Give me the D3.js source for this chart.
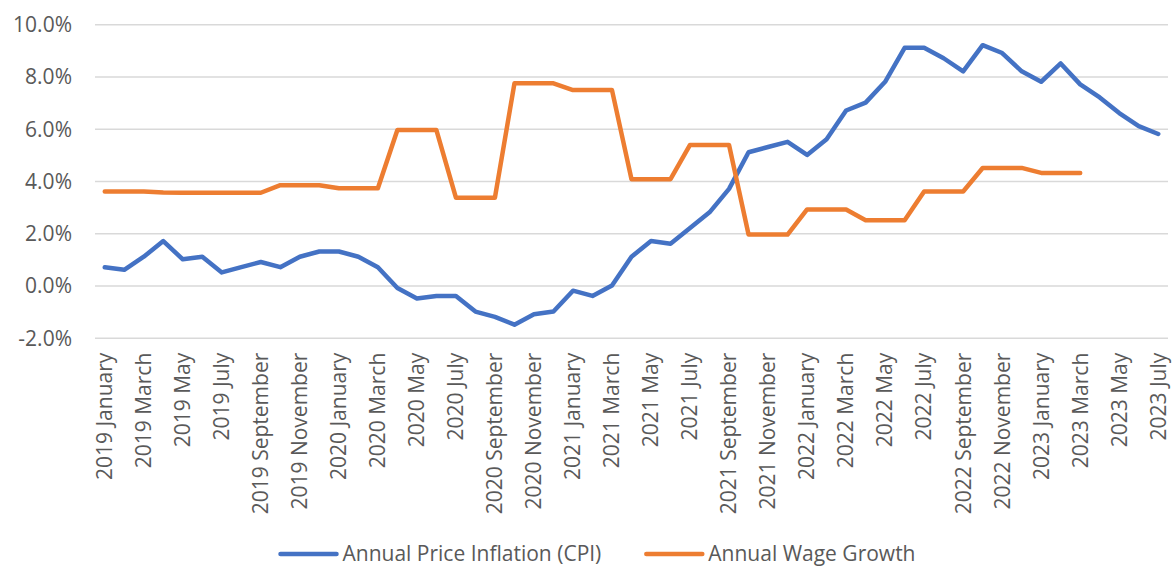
<!DOCTYPE html>
<html>
<head>
<meta charset="utf-8">
<script src="https://cdn.jsdelivr.net/npm/d3@7"></script>
<style>
  body { margin: 0; background: #fff; }
  text { font-family: "Open Sans", sans-serif; fill: #595959; }
  .line { fill: none; stroke-width: 4.5; stroke-linejoin: round; stroke-linecap: round; }
</style>
</head>
<body>
<div id="chart"></div>
<script>
// month labels, Jan 2019 .. Jul 2023
const years = [2019, 2020, 2021, 2022, 2023]
const monthNames = ['January', 'February', 'March', 'April', 'May', 'June', 'July',
  'August', 'September', 'October', 'November', 'December']
const months = []
years.forEach(y => monthNames.forEach((m, i) => {
  if (y < 2023 || i < 7) months.push(`${y} ${m}`)
}))

// annual CPI inflation, %
const cpi = [
  0.7, 0.6, 1.1, 1.7, 1.0, 1.1, 0.5, 0.7, 0.9, 0.7, 1.1, 1.3,
  1.3, 1.1, 0.7, -0.1, -0.5, -0.4, -0.4, -1.0, -1.2, -1.5, -1.1, -1.0,
  -0.2, -0.4, 0.0, 1.1, 1.7, 1.6, 2.2, 2.8, 3.7, 5.1, 5.3, 5.5,
  5.0, 5.6, 6.7, 7.0, 7.8, 9.1, 9.1, 8.7, 8.2, 9.2, 8.9, 8.2,
  7.8, 8.5, 7.7, 7.2, 6.6, 6.1, 5.8
]

// annual wage growth, % (no data after March 2023)
const wages = [
  3.6, 3.6, 3.6, 3.56, 3.55, 3.55, 3.55, 3.55, 3.55, 3.84, 3.84, 3.84,
  3.72, 3.72, 3.72, 5.95, 5.95, 5.95, 3.36, 3.36, 3.36, 7.74, 7.74, 7.74,
  7.48, 7.48, 7.48, 4.07, 4.07, 4.07, 5.38, 5.38, 5.38, 1.95, 1.95, 1.95,
  2.91, 2.91, 2.91, 2.5, 2.5, 2.5, 3.6, 3.6, 3.6, 4.5, 4.5, 4.5,
  4.31, 4.31, 4.31, null, null, null, null
]

const yTicks = [-2, 0, 2, 4, 6, 8, 10]

const series = [
  { name: 'Annual Price Inflation (CPI)', values: cpi, color: '#4472C4' },
  { name: 'Annual Wage Growth', values: wages, color: '#ED7D31' }
]

function makeChart() {
  let W = 1172, H = 568
  let margin = { top: 24.3, right: 4, bottom: 230.3, left: 95 },
      width = W - margin.left - margin.right,
      height = H - margin.top - margin.bottom

  let svg = d3.select('#chart').append('svg')
      .attr('width', W)
      .attr('height', H)

  let g = svg.append('g')
      .attr('transform', `translate(${margin.left},${margin.top})`)

  let x = d3.scaleBand()
      .domain(months)
      .range([0, width])
      .padding(0)
  let y = d3.scaleLinear()
      .domain([-2, 10])
      .range([height, 0])

  // gridlines + y labels
  g.append('g')
      .call(d3.axisLeft(y).tickValues(yTicks).tickSize(-width).tickFormat(d => d.toFixed(1) + '%'))
      .call(g => g.select('.domain').remove())
      .call(g => g.selectAll('.tick line')
          .attr('stroke', '#d9d9d9')
          .attr('stroke-width', 1.4))
      .call(g => g.selectAll('.tick text')
          .attr('x', -23)
          .attr('dy', '0.35em')
          .attr('font-size', 21)
          .style('font-family', '"Open Sans", sans-serif')
          .style('fill', '#595959'))

  // x labels, every second month, rotated
  g.append('g')
      .attr('transform', `translate(0,${height})`)
      .call(d3.axisBottom(x).tickValues(months.filter((d, i) => i % 2 === 0)).tickSize(0))
      .call(g => g.select('.domain').remove())
      .call(g => g.selectAll('.tick text')
          .attr('transform', 'rotate(-90)')
          .attr('text-anchor', 'end')
          .attr('x', -15)
          .attr('y', 0)
          .attr('dy', '0.35em')
          .attr('font-size', 21)
          .style('font-family', '"Open Sans", sans-serif')
          .style('fill', '#595959'))

  let line = d3.line()
      .defined(d => d != null)
      .x((d, i) => x(months[i]) + x.bandwidth() / 2)
      .y(d => y(d))

  series.forEach(s => {
    g.append('path')
        .datum(s.values)
        .attr('class', 'line')
        .attr('stroke', s.color)
        .attr('d', line)
  })

  // legend
  let legendY = 554
  let legend = svg.append('g')
  let items = legend.selectAll('g')
      .data(series)
      .join('g')
  items.append('line')
      .attr('x1', 0).attr('x2', 56)
      .attr('stroke', d => d.color)
      .attr('stroke-width', 4.5)
      .attr('stroke-linecap', 'round')
  items.append('text')
      .attr('x', 62)
      .attr('dy', '0.35em')
      .attr('font-size', 21)
      .text(d => d.name)

  let pos = 0, gap = 45
  items.each(function() {
    let wItem = this.getBBox().width
    d3.select(this).attr('transform', `translate(${pos},0)`)
    pos += wItem + gap
  })
  let total = pos - gap
  legend.attr('transform', `translate(${598 - total / 2},${legendY})`)
}

makeChart()
</script>
</body>
</html>
